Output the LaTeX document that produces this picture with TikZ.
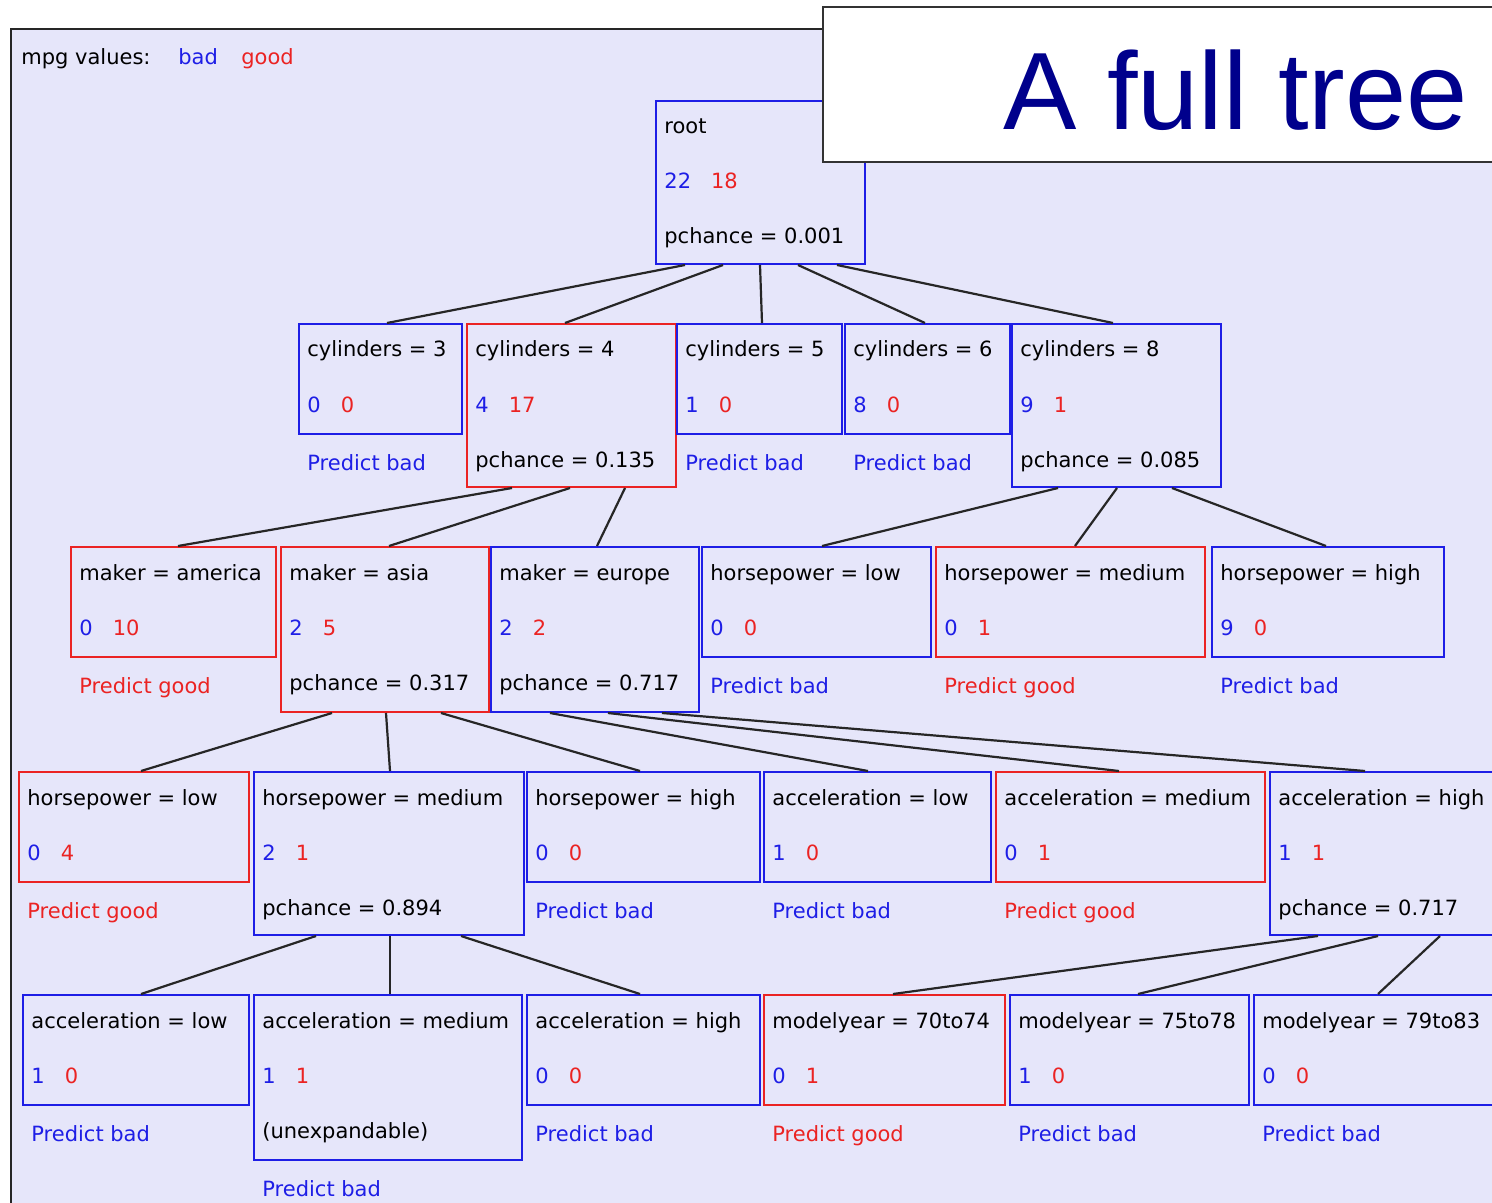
\documentclass[tikz,border=0pt]{standalone}
\usepackage{fontspec}
\setmainfont{DejaVu Sans}
\newfontfamily\titlefont{Liberation Sans}
\usetikzlibrary{fit}

\definecolor{bad}{RGB}{30,30,230}
\definecolor{good}{RGB}{235,35,35}
\definecolor{panelbg}{RGB}{230,230,250}
\definecolor{titleblue}{RGB}{0,0,140}

\newcommand{\classcounts}[2]{\textcolor{bad}{#1}\hspace{10pt}\textcolor{good}{#2}}

\begin{document}
\begin{tikzpicture}[x=0.5pt, y=-0.5pt,
	badbox/.style={draw=bad, line width=1pt, inner sep=0pt},
	goodbox/.style={draw=good, line width=1pt, inner sep=0pt},
	txt/.style={anchor=base west, inner sep=0pt, font=\fontsize{10.5}{13}\selectfont},
	badtxt/.style={txt, text=bad},
	goodtxt/.style={txt, text=good},
	branch/.style={draw=black!85, line width=1.1pt}]
	\useasboundingbox (0,0) rectangle (1492,1203);
	\clip (0,0) rectangle (1492,1203);

	\fill[panelbg] (11,29) rectangle (1510,1210);
	\draw[black!85, line width=1pt] (11,1210) -- (11,29) -- (1510,29);

	% legend
	\node[txt] (key) at (21,65) {mpg values:};
	\node[badtxt] (keybad) at (178,65) {bad};
	\node[goodtxt] (keygood) at (241,65) {good};

	% root
	\node[badbox, fit={(656,101) (865,264)}] (root) {};
	\node[txt] (rootT) at ([shift={(9,34)}]root.north west) {root};
	\node[txt] (rootN) at ([shift={(9,89)}]root.north west) {\classcounts{22}{18}};
	\node[txt] (rootP) at ([shift={(9,144)}]root.north west) {pchance = 0.001};

	% cylinders
	\node[badbox, fit={(299,324) (462,434)}] (cyl3) {};
	\node[txt] (cyl3T) at ([shift={(9,34)}]cyl3.north west) {cylinders = 3};
	\node[txt] (cyl3N) at ([shift={(9,89)}]cyl3.north west) {\classcounts{0}{0}};
	\node[badtxt] (cyl3D) at ([shift={(9,35)}]cyl3.south west) {Predict bad};

	\node[goodbox, fit={(467,324) (676,487)}] (cyl4) {};
	\node[txt] (cyl4T) at ([shift={(9,34)}]cyl4.north west) {cylinders = 4};
	\node[txt] (cyl4N) at ([shift={(9,89)}]cyl4.north west) {\classcounts{4}{17}};
	\node[txt] (cyl4P) at ([shift={(9,144)}]cyl4.north west) {pchance = 0.135};

	\node[badbox, fit={(677,324) (842,434)}] (cyl5) {};
	\node[txt] (cyl5T) at ([shift={(9,34)}]cyl5.north west) {cylinders = 5};
	\node[txt] (cyl5N) at ([shift={(9,89)}]cyl5.north west) {\classcounts{1}{0}};
	\node[badtxt] (cyl5D) at ([shift={(9,35)}]cyl5.south west) {Predict bad};

	\node[badbox, fit={(845,324) (1010,434)}] (cyl6) {};
	\node[txt] (cyl6T) at ([shift={(9,34)}]cyl6.north west) {cylinders = 6};
	\node[txt] (cyl6N) at ([shift={(9,89)}]cyl6.north west) {\classcounts{8}{0}};
	\node[badtxt] (cyl6D) at ([shift={(9,35)}]cyl6.south west) {Predict bad};

	\node[badbox, fit={(1012,324) (1221,487)}] (cyl8) {};
	\node[txt] (cyl8T) at ([shift={(9,34)}]cyl8.north west) {cylinders = 8};
	\node[txt] (cyl8N) at ([shift={(9,89)}]cyl8.north west) {\classcounts{9}{1}};
	\node[txt] (cyl8P) at ([shift={(9,144)}]cyl8.north west) {pchance = 0.085};

	% maker / horsepower under cylinders
	\node[goodbox, fit={(71,547) (276,657)}] (amer) {};
	\node[txt] (amerT) at ([shift={(9,34)}]amer.north west) {maker = america};
	\node[txt] (amerN) at ([shift={(9,89)}]amer.north west) {\classcounts{0}{10}};
	\node[goodtxt] (amerD) at ([shift={(9,35)}]amer.south west) {Predict good};

	\node[goodbox, fit={(281,547) (489,712)}] (asia) {};
	\node[txt] (asiaT) at ([shift={(9,34)}]asia.north west) {maker = asia};
	\node[txt] (asiaN) at ([shift={(9,89)}]asia.north west) {\classcounts{2}{5}};
	\node[txt] (asiaP) at ([shift={(9,144)}]asia.north west) {pchance = 0.317};

	\node[badbox, fit={(491,547) (699,712)}] (euro) {};
	\node[txt] (euroT) at ([shift={(9,34)}]euro.north west) {maker = europe};
	\node[txt] (euroN) at ([shift={(9,89)}]euro.north west) {\classcounts{2}{2}};
	\node[txt] (euroP) at ([shift={(9,144)}]euro.north west) {pchance = 0.717};

	\node[badbox, fit={(702,547) (931,657)}] (hplo) {};
	\node[txt] (hploT) at ([shift={(9,34)}]hplo.north west) {horsepower = low};
	\node[txt] (hploN) at ([shift={(9,89)}]hplo.north west) {\classcounts{0}{0}};
	\node[badtxt] (hploD) at ([shift={(9,35)}]hplo.south west) {Predict bad};

	\node[goodbox, fit={(936,547) (1205,657)}] (hpmed) {};
	\node[txt] (hpmedT) at ([shift={(9,34)}]hpmed.north west) {horsepower = medium};
	\node[txt] (hpmedN) at ([shift={(9,89)}]hpmed.north west) {\classcounts{0}{1}};
	\node[goodtxt] (hpmedD) at ([shift={(9,35)}]hpmed.south west) {Predict good};

	\node[badbox, fit={(1212,547) (1444,657)}] (hphi) {};
	\node[txt] (hphiT) at ([shift={(9,34)}]hphi.north west) {horsepower = high};
	\node[txt] (hphiN) at ([shift={(9,89)}]hphi.north west) {\classcounts{9}{0}};
	\node[badtxt] (hphiD) at ([shift={(9,35)}]hphi.south west) {Predict bad};

	% horsepower under asia, acceleration under europe
	\node[goodbox, fit={(19,772) (249,882)}] (ahplo) {};
	\node[txt] (ahploT) at ([shift={(9,34)}]ahplo.north west) {horsepower = low};
	\node[txt] (ahploN) at ([shift={(9,89)}]ahplo.north west) {\classcounts{0}{4}};
	\node[goodtxt] (ahploD) at ([shift={(9,35)}]ahplo.south west) {Predict good};

	\node[badbox, fit={(254,772) (524,935)}] (ahpmed) {};
	\node[txt] (ahpmedT) at ([shift={(9,34)}]ahpmed.north west) {horsepower = medium};
	\node[txt] (ahpmedN) at ([shift={(9,89)}]ahpmed.north west) {\classcounts{2}{1}};
	\node[txt] (ahpmedP) at ([shift={(9,144)}]ahpmed.north west) {pchance = 0.894};

	\node[badbox, fit={(527,772) (760,882)}] (ahphi) {};
	\node[txt] (ahphiT) at ([shift={(9,34)}]ahphi.north west) {horsepower = high};
	\node[txt] (ahphiN) at ([shift={(9,89)}]ahphi.north west) {\classcounts{0}{0}};
	\node[badtxt] (ahphiD) at ([shift={(9,35)}]ahphi.south west) {Predict bad};

	\node[badbox, fit={(764,772) (991,882)}] (eaclo) {};
	\node[txt] (eacloT) at ([shift={(9,34)}]eaclo.north west) {acceleration = low};
	\node[txt] (eacloN) at ([shift={(9,89)}]eaclo.north west) {\classcounts{1}{0}};
	\node[badtxt] (eacloD) at ([shift={(9,35)}]eaclo.south west) {Predict bad};

	\node[goodbox, fit={(996,772) (1265,882)}] (eacmed) {};
	\node[txt] (eacmedT) at ([shift={(9,34)}]eacmed.north west) {acceleration = medium};
	\node[txt] (eacmedN) at ([shift={(9,89)}]eacmed.north west) {\classcounts{0}{1}};
	\node[goodtxt] (eacmedD) at ([shift={(9,35)}]eacmed.south west) {Predict good};

	\node[badbox, fit={(1270,772) (1510,935)}] (eachi) {};
	\node[txt] (eachiT) at ([shift={(9,34)}]eachi.north west) {acceleration = high};
	\node[txt] (eachiN) at ([shift={(9,89)}]eachi.north west) {\classcounts{1}{1}};
	\node[txt] (eachiP) at ([shift={(9,144)}]eachi.north west) {pchance = 0.717};

	% acceleration under horsepower = medium, modelyear under acceleration = high
	\node[badbox, fit={(23,995) (249,1105)}] (aclo) {};
	\node[txt] (acloT) at ([shift={(9,34)}]aclo.north west) {acceleration = low};
	\node[txt] (acloN) at ([shift={(9,89)}]aclo.north west) {\classcounts{1}{0}};
	\node[badtxt] (acloD) at ([shift={(9,35)}]aclo.south west) {Predict bad};

	\node[badbox, fit={(254,995) (522,1160)}] (acmed) {};
	\node[txt] (acmedT) at ([shift={(9,34)}]acmed.north west) {acceleration = medium};
	\node[txt] (acmedN) at ([shift={(9,89)}]acmed.north west) {\classcounts{1}{1}};
	\node[txt] (acmedU) at ([shift={(9,144)}]acmed.north west) {(unexpandable)};
	\node[badtxt] (acmedD) at ([shift={(9,35)}]acmed.south west) {Predict bad};

	\node[badbox, fit={(527,995) (760,1105)}] (achi) {};
	\node[txt] (achiT) at ([shift={(9,34)}]achi.north west) {acceleration = high};
	\node[txt] (achiN) at ([shift={(9,89)}]achi.north west) {\classcounts{0}{0}};
	\node[badtxt] (achiD) at ([shift={(9,35)}]achi.south west) {Predict bad};

	\node[goodbox, fit={(764,995) (1005,1105)}] (yr70) {};
	\node[txt] (yr70T) at ([shift={(9,34)}]yr70.north west) {modelyear = 70to74};
	\node[txt] (yr70N) at ([shift={(9,89)}]yr70.north west) {\classcounts{0}{1}};
	\node[goodtxt] (yr70D) at ([shift={(9,35)}]yr70.south west) {Predict good};

	\node[badbox, fit={(1010,995) (1249,1105)}] (yr75) {};
	\node[txt] (yr75T) at ([shift={(9,34)}]yr75.north west) {modelyear = 75to78};
	\node[txt] (yr75N) at ([shift={(9,89)}]yr75.north west) {\classcounts{1}{0}};
	\node[badtxt] (yr75D) at ([shift={(9,35)}]yr75.south west) {Predict bad};

	\node[badbox, fit={(1254,995) (1510,1105)}] (yr79) {};
	\node[txt] (yr79T) at ([shift={(9,34)}]yr79.north west) {modelyear = 79to83};
	\node[txt] (yr79N) at ([shift={(9,89)}]yr79.north west) {\classcounts{0}{0}};
	\node[badtxt] (yr79D) at ([shift={(9,35)}]yr79.south west) {Predict bad};

	% branches
	\draw[branch] (685,0 |- root.south) -- (387,0 |- cyl3.north);
	\draw[branch] (723,0 |- root.south) -- (565,0 |- cyl4.north);
	\draw[branch] (760,0 |- root.south) -- (762,0 |- cyl5.north);
	\draw[branch] (798,0 |- root.south) -- (925,0 |- cyl6.north);
	\draw[branch] (837,0 |- root.south) -- (1113,0 |- cyl8.north);

	\draw[branch] (512,0 |- cyl4.south) -- (178,0 |- amer.north);
	\draw[branch] (570,0 |- cyl4.south) -- (389,0 |- asia.north);
	\draw[branch] (625,0 |- cyl4.south) -- (597,0 |- euro.north);
	\draw[branch] (1058,0 |- cyl8.south) -- (822,0 |- hplo.north);
	\draw[branch] (1117,0 |- cyl8.south) -- (1075,0 |- hpmed.north);
	\draw[branch] (1172,0 |- cyl8.south) -- (1326,0 |- hphi.north);

	\draw[branch] (332,0 |- asia.south) -- (141,0 |- ahplo.north);
	\draw[branch] (386,0 |- asia.south) -- (390,0 |- ahpmed.north);
	\draw[branch] (441,0 |- asia.south) -- (640,0 |- ahphi.north);
	\draw[branch] (550,0 |- euro.south) -- (868,0 |- eaclo.north);
	\draw[branch] (608,0 |- euro.south) -- (1119,0 |- eacmed.north);
	\draw[branch] (662,0 |- euro.south) -- (1365,0 |- eachi.north);

	\draw[branch] (316,0 |- ahpmed.south) -- (141,0 |- aclo.north);
	\draw[branch] (390,0 |- ahpmed.south) -- (390,0 |- acmed.north);
	\draw[branch] (461,0 |- ahpmed.south) -- (640,0 |- achi.north);
	\draw[branch] (1318,0 |- eachi.south) -- (893,0 |- yr70.north);
	\draw[branch] (1378,0 |- eachi.south) -- (1138,0 |- yr75.north);
	\draw[branch] (1440,0 |- eachi.south) -- (1378,0 |- yr79.north);

	% title panel
	\filldraw[fill=white, draw=black!80, line width=0.8pt] (823,7) rectangle (1510,162);
	\node[anchor=base west, inner sep=0pt, text=titleblue, font=\titlefont\fontsize{55}{60}\selectfont] (title) at (1003,130) {A full tree};
\end{tikzpicture}
\end{document}
